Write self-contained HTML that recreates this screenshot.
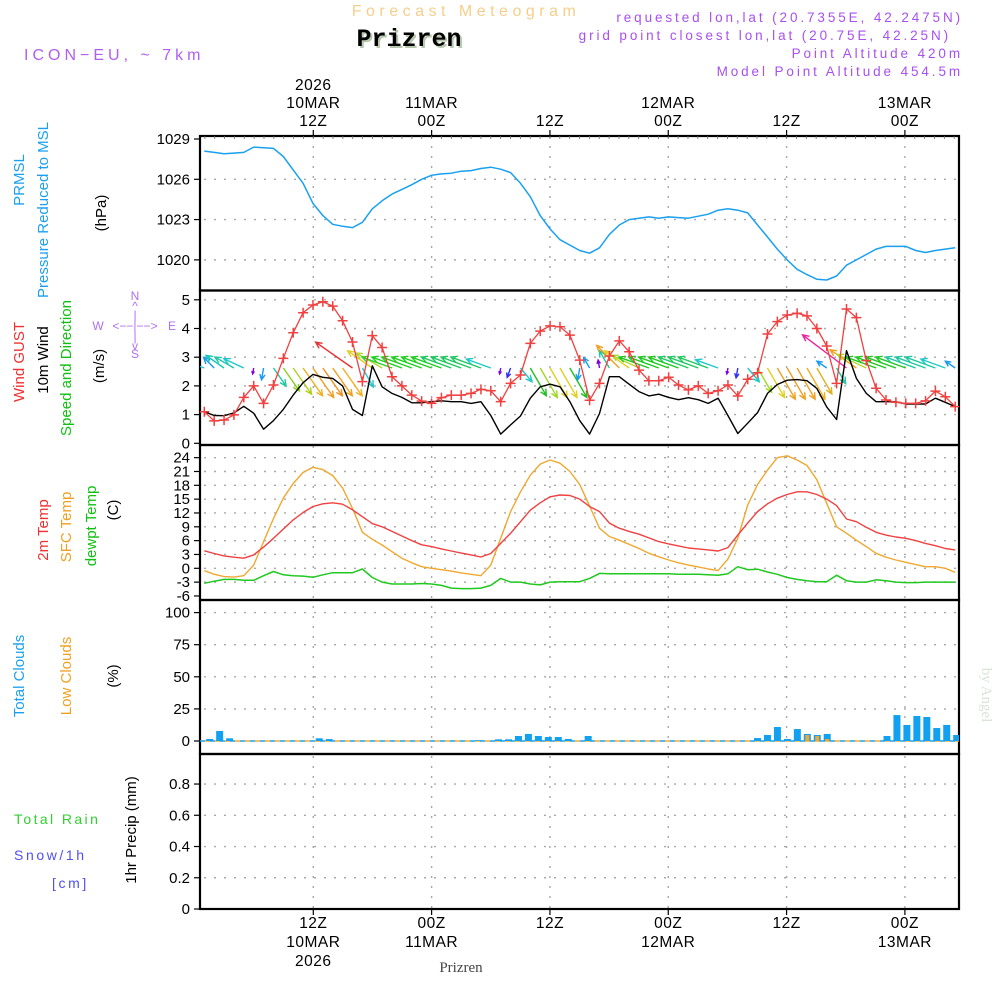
<!DOCTYPE html>
<html><head><meta charset="utf-8"><style>
html,body{margin:0;padding:0;background:#fff;}
svg{display:block;font-family:"Liberation Sans",sans-serif;}
</style></head><body>
<svg id="chart" width="1000" height="1000" viewBox="0 0 1000 1000" xmlns="http://www.w3.org/2000/svg">
<g id="header">
<text x="466" y="16" text-anchor="middle" font-size="16" fill="#f5cf8a" letter-spacing="4.5">Forecast Meteogram</text>
<text x="411" y="48" text-anchor="middle" font-size="25" font-weight="bold" font-family="Liberation Mono, monospace" fill="#b8c8b0">Prizren</text>
<text x="409" y="46" text-anchor="middle" font-size="25" font-weight="bold" font-family="Liberation Mono, monospace" fill="#000">Prizren</text>
<text x="24" y="60" font-size="16" fill="#b060f0" letter-spacing="4">ICON−EU, ~ 7km</text>
<text x="963" y="22" text-anchor="end" font-size="13.5" fill="#a850f0" letter-spacing="2.9">requested lon,lat (20.7355E, 42.2475N)</text>
<text x="951" y="40" text-anchor="end" font-size="13.5" fill="#a850f0" letter-spacing="2.9">grid point closest lon,lat (20.75E, 42.25N)</text>
<text x="963" y="58" text-anchor="end" font-size="13.5" fill="#a850f0" letter-spacing="2.9">Point Altitude 420m</text>
<text x="963" y="76" text-anchor="end" font-size="13.5" fill="#a850f0" letter-spacing="2.9">Model Point Altitude 454.5m</text>
</g>
<g id="left-labels" font-size="15">
<text transform="translate(24,180) rotate(-90)" text-anchor="middle" fill="#1aa0f0">PRMSL</text>
<text transform="translate(48,210) rotate(-90)" text-anchor="middle" fill="#1aa0f0">Pressure Reduced to MSL</text>
<text transform="translate(106,213) rotate(-90)" text-anchor="middle" fill="#000">(hPa)</text>
<text transform="translate(24,362) rotate(-90)" text-anchor="middle" fill="#f03030">Wind GUST</text>
<text transform="translate(48,360) rotate(-90)" text-anchor="middle" fill="#000">10m Wind</text>
<text transform="translate(71,368) rotate(-90)" text-anchor="middle" fill="#10c010">Speed and Direction</text>
<text transform="translate(104,366) rotate(-90)" text-anchor="middle" fill="#000">(m/s)</text>
<text transform="translate(48,530) rotate(-90)" text-anchor="middle" fill="#f03030">2m Temp</text>
<text transform="translate(71,527) rotate(-90)" text-anchor="middle" fill="#f0a020">SFC Temp</text>
<text transform="translate(96,526) rotate(-90)" text-anchor="middle" fill="#10c010">dewpt Temp</text>
<text transform="translate(118,510) rotate(-90)" text-anchor="middle" fill="#000">(C)</text>
<text transform="translate(24,676) rotate(-90)" text-anchor="middle" fill="#1aa0f0">Total Clouds</text>
<text transform="translate(71,676) rotate(-90)" text-anchor="middle" fill="#f0a020">Low Clouds</text>
<text transform="translate(118,676) rotate(-90)" text-anchor="middle" fill="#000">(%)</text>
<text x="14" y="824" fill="#30d030" letter-spacing="2.4" font-size="14">Total  Rain</text>
<text x="14" y="860" fill="#5050f0" letter-spacing="2.6" font-size="14">Snow/1h</text>
<text x="52" y="888" fill="#5050f0" letter-spacing="2.6" font-size="14">[cm]</text>
<text transform="translate(136,830) rotate(-90)" text-anchor="middle" fill="#000">1hr Precip (mm)</text>
<text transform="translate(982,695) rotate(90)" text-anchor="middle" fill="#d8e4d8" font-family="Liberation Serif, serif" font-size="15">by Angel</text>
<text x="461" y="972" text-anchor="middle" font-family="Liberation Serif, serif" font-size="15" fill="#444">Prizren</text>
</g>
<g id="compass" fill="#b070f0" font-size="12" text-anchor="middle">
<text x="135" y="300">N</text><text x="135" y="310">^</text><text x="135" y="319">|</text>
<text x="98" y="330">W</text><text x="135" y="330">&lt;−−|−−&gt;</text><text x="172" y="330">E</text>
<text x="135" y="341">|</text><text x="135" y="350">v</text><text x="135" y="358">S</text>
</g>
<g id="plots"></g>
</svg>
<script>
// ---------- data ----------
const topTimeLabels = [["2026","10MAR","12Z"],["11MAR","00Z"],["12Z"],["12MAR","00Z"],["12Z"],["13MAR","00Z"]];
const bottomTimeLabels = [["12Z","10MAR","2026"],["00Z","11MAR"],["12Z"],["00Z","12MAR"],["12Z"],["00Z","13MAR"]];
const timeLabelHours = [0,12,24,36,48,60];
const pressure = [1028.1,1028.0,1027.9,1027.95,1028.0,1028.4,1028.35,1028.3,1027.7,1026.7,1025.7,1024.2,1023.3,1022.65,1022.5,1022.4,1022.8,1023.8,1024.4,1024.9,1025.25,1025.6,1026.0,1026.3,1026.4,1026.45,1026.6,1026.65,1026.8,1026.9,1026.75,1026.5,1025.7,1024.7,1023.3,1022.3,1021.5,1021.1,1020.7,1020.5,1020.9,1021.9,1022.6,1023.0,1023.1,1023.2,1023.1,1023.2,1023.15,1023.1,1023.25,1023.4,1023.7,1023.8,1023.7,1023.5,1022.6,1021.7,1020.8,1020.0,1019.3,1018.9,1018.55,1018.5,1018.8,1019.6,1020.0,1020.4,1020.8,1021.0,1021.0,1021.0,1020.7,1020.55,1020.7,1020.8,1020.9];
const pressureTicks = [1020,1023,1026,1029];
const gust = [1.1,0.78,0.81,0.99,1.6,2.0,1.39,2.03,2.96,3.85,4.55,4.82,4.93,4.78,4.27,3.53,2.15,3.75,3.34,2.32,2.0,1.68,1.47,1.39,1.59,1.68,1.68,1.74,1.88,1.83,1.45,2.09,2.38,3.48,3.91,4.09,4.06,3.77,2.9,1.5,2.09,3.04,3.57,3.19,2.55,2.18,2.18,2.3,2.03,1.86,2.0,1.74,1.83,2.03,1.65,2.23,2.46,3.81,4.24,4.47,4.53,4.44,4.0,3.39,2.09,4.68,4.38,2.88,1.92,1.51,1.43,1.39,1.39,1.48,1.82,1.62,1.28];
const windSpeed = [1.1,0.97,0.96,1.06,1.29,1.05,0.49,0.79,1.18,1.68,2.11,2.4,2.3,2.26,2.0,1.18,0.97,2.7,1.97,1.74,1.6,1.41,1.41,1.45,1.48,1.45,1.45,1.39,1.45,0.97,0.32,0.64,0.95,1.57,1.97,2.06,1.97,1.45,0.79,0.32,1.04,2.32,2.32,2.06,1.8,1.65,1.71,1.6,1.52,1.59,1.52,1.39,1.57,0.97,0.34,0.7,1.07,1.74,2.05,2.2,2.22,2.18,1.91,1.27,0.83,3.23,2.26,1.74,1.45,1.45,1.45,1.37,1.37,1.37,1.57,1.43,1.28];
const windTicks = [0,1,2,3,4,5];
const arrowAngle = [200,225,215,210,205,100,100,55,55,55,55,55,55,55,55,215,60,215,210,200,200,200,200,200,200,200,200,200,200,200,100,110,50,60,60,60,60,60,100,240,260,240,225,215,205,200,200,200,200,200,200,200,200,100,100,50,60,60,60,60,60,60,60,215,60,217,215,205,200,200,200,200,200,200,200,200,215];
const arrowLength = [22,15,22,22,22,6,12,22,28,32,34,36,34,34,34,45,22,30,30,32,32,32,32,32,32,32,32,32,32,26,6,10,18,32,34,34,34,34,12,12,8,20,32,30,30,32,32,32,32,32,32,32,24,6,10,18,28,34,36,36,36,36,30,12,18,55,32,32,32,32,32,32,32,32,32,26,12];
const arrowColor = ["#1bc8d0","#1a9af0","#19c8b0","#20c8a8","#1bc8d0","#8000e0","#1a9af0","#20c8a0","#88d020","#b0d020","#f0b020","#f0a020","#f09020","#f0a020","#f0b020","#e83030","#20c8d0","#e0d020","#b0d830","#30d030","#20d020","#20d020","#20d020","#20d020","#20d020","#20c860","#20c860","#20c860","#20c860","#20c8c8","#8000e0","#3030f0","#20c8c0","#20c020","#a0d820","#e0d020","#e0d020","#20c020","#1a9af0","#1a9af0","#8000e0","#20c8a0","#f0a020","#e0d020","#b0d830","#20c820","#20c820","#20c820","#20c820","#20c860","#20c860","#20c860","#20c8c8","#8000e0","#3030f0","#20c8c0","#a0d820","#e0d020","#f0a020","#f0a020","#f0a020","#f0b020","#e0b020","#1a9af0","#20c8a0","#f0209a","#f0a020","#b0d830","#20c820","#20c820","#20c820","#20c820","#20c8a0","#20c8a0","#20c8a0","#20c8c8","#1a9af0"];
const temp2m = [3.8,3.2,2.7,2.4,2.2,2.9,4.6,6.5,8.5,10.5,12.1,13.4,14.0,14.2,13.9,12.7,11.2,9.7,9.0,8.0,7.0,6.0,5.1,4.7,4.2,3.75,3.3,2.9,2.45,3.2,5.4,7.6,10.1,12.6,14.2,15.5,15.9,15.8,15.0,13.4,12.3,9.8,8.7,8.0,7.4,6.6,5.8,5.3,4.85,4.4,4.2,4.0,3.75,4.5,7.2,9.8,12.3,14.0,15.2,16.0,16.6,16.6,16.0,15.0,13.6,10.7,10.1,8.9,7.8,7.2,6.8,6.5,6.0,5.4,4.9,4.3,4.0];
const sfcTemp = [-0.5,-1.3,-1.8,-1.9,-1.6,0.7,5.8,10.8,15.2,18.4,20.8,21.9,21.4,20.1,17.4,13.0,7.8,6.3,5.05,3.6,2.2,1.2,0.35,0,-0.3,-0.6,-1.0,-1.3,-1.6,0.7,6.5,12.3,16.6,20.2,22.6,23.5,22.8,21.0,18.2,13.5,8.7,6.9,6.1,5.2,4.3,3.25,2.5,1.8,1.2,0.7,0.3,-0.15,-0.5,2.0,6.5,13.7,18.2,21.3,24.0,24.4,23.5,22.3,19.2,14.1,9.0,7.6,6.1,4.7,3.25,2.4,1.8,1.3,0.8,0.35,0.35,0,-0.9];
const dewpoint = [-3.25,-2.8,-2.4,-2.4,-2.6,-2.6,-1.6,-0.7,-1.4,-1.6,-1.7,-1.95,-1.4,-0.95,-0.95,-0.95,-0.15,-2.0,-3.0,-3.4,-3.4,-3.4,-3.3,-3.4,-3.7,-4.3,-4.4,-4.4,-4.3,-3.7,-2.2,-3.0,-3.0,-3.4,-3.6,-3.0,-2.9,-2.9,-2.9,-2.2,-1.1,-1.2,-1.2,-1.2,-1.2,-1.2,-1.2,-1.2,-1.3,-1.3,-1.3,-1.4,-1.5,-1.2,0.35,-0.3,-0.2,-0.8,-1.3,-2.0,-2.4,-2.7,-2.9,-2.9,-1.5,-2.7,-3.0,-3.0,-2.5,-2.7,-3.0,-3.1,-3.1,-3.0,-3.0,-3.0,-3.0];
const tempTicks = [-6,-3,0,3,6,9,12,15,18,21,24];
const totalClouds = [1.6,7.8,2.1,0,0,0,0,0,0,0,0,2.1,1.5,0,0,0,0,0,0,0,0,0,0,0,0,0,0,0.6,0,1.3,1.3,3.9,5.5,3.9,3.1,3.1,1.6,0,3.9,0,0,0,0,0,0,0,0,0,0,0,0,0,0,0,0,2.3,4.7,10.9,1.6,9.3,5.5,4.7,5.5,0,0,0,0,0,3.9,20.2,12.5,19.5,18.7,10.1,12.5,4.7];
const lowClouds = [0,0,0,0,0,0,0,0,0,0,0,0,0,0,0,0,0,0,0,0,0,0,0,0,0,0,0,0,0,0,0,0,0,0,0,0,0,0,0,0,0,0,0,0,0,0,0,0,0,0,0,0,0,0,0,0,0,0,0,0,4.7,3.9,1.6,0,0,0,0,0,0,0,0,0,0,0,0,0];
const cloudTicks = [0,25,50,75,100];
const precip = [0,0,0,0,0,0,0,0,0,0,0,0,0,0,0,0,0,0,0,0,0,0,0,0,0,0,0,0,0,0,0,0,0,0,0,0,0,0,0,0,0,0,0,0,0,0,0,0,0,0,0,0,0,0,0,0,0,0,0,0,0,0,0,0,0,0,0,0,0,0,0,0,0,0,0,0,0];
const precipTicks = [0,0.2,0.4,0.6,0.8];
const precipTickLabels = ["0","0.2","0.4","0.6","0.8"];

// ---------- scales ----------
const L=200, R=959;
const xPt = i => 204.3 + 9.88*i;
const xHour = h => 313.3 + 9.86*h;
const xBar = i => 209.7 + 9.96*i;
const yP = v => 139 + (1029 - v)*13.43;
const yW = v => 443.3 - v*28.7;
const yT = v => 568.3 - v*4.61;
const yC = v => 741 - v*1.284;
const yR = v => 909 - v*156.2;
const panels = [[136,290.5],[290.5,445],[445,600],[600,754],[754,909]];

const NS="http://www.w3.org/2000/svg";
const root=document.getElementById('plots');
function mk(tag,attrs,parent){const e=document.createElementNS(NS,tag);for(const k in attrs)e.setAttribute(k,attrs[k]);(parent||root).appendChild(e);return e;}

const defs=mk('defs',{});
const cp=mk('clipPath',{id:'plotclip'},defs);
mk('rect',{x:L,y:136,width:R-L,height:773},cp);

const grid=mk('g',{stroke:'#a8a8a8','stroke-width':1.4,'stroke-dasharray':'2,8',fill:'none'});


function hgrid(ys){ys.forEach(y=>mk('line',{x1:L+4,x2:R,y1:y,y2:y},grid));}
hgrid(pressureTicks.filter(v=>v<1029).map(yP));
hgrid(windTicks.filter(v=>v>0).map(yW));
hgrid(tempTicks.filter(v=>v>-6).map(yT));
hgrid(cloudTicks.filter(v=>v>0).map(yC));
hgrid(precipTicks.filter(v=>v>0).map(yR));
timeLabelHours.forEach(h=>{mk('line',{x1:xHour(h),x2:xHour(h),y1:136,y2:909},grid);});

const ax=mk('g',{stroke:'#000',fill:'none'});


panels.forEach(p=>mk('rect',{x:L,y:p[0],width:R-L,height:p[1]-p[0],'stroke-width':2.2},ax));
for(let h=-11;h<=65;h++){mk('line',{x1:xHour(h),x2:xHour(h),y1:136,y2:139,'stroke-width':0.8,stroke:'#666'},ax);}
timeLabelHours.forEach(h=>{mk('line',{x1:xHour(h),x2:xHour(h),y1:130,y2:136,'stroke-width':1.2},ax);mk('line',{x1:xHour(h),x2:xHour(h),y1:909,y2:915,'stroke-width':1.2},ax);});

const tl=mk('g',{'font-size':15,fill:'#000','text-anchor':'end'});


function yticks(vals,f,labels){vals.forEach((v,k)=>{const y=f(v);mk('line',{x1:L-6,x2:L,y1:y,y2:y,stroke:'#000','stroke-width':1.2},tl);const t=mk('text',{x:L-10,y:y+5},tl);t.textContent=labels?labels[k]:String(v);});}
yticks(pressureTicks,yP);
yticks(windTicks,yW);
yticks(tempTicks,yT);
yticks(cloudTicks,yC);
yticks(precipTicks,yR,precipTickLabels);

const tg=mk('g',{'font-size':15.5,fill:'#000','text-anchor':'middle','letter-spacing':'0.5'});


timeLabelHours.forEach((h,k)=>{
  const top=topTimeLabels[k];
  top.forEach((s,j)=>{const t=mk('text',{x:xHour(h),y:126-(top.length-1-j)*18},tg);t.textContent=s;});
  bottomTimeLabels[k].forEach((s,j)=>{const t=mk('text',{x:xHour(h),y:928+j*19},tg);t.textContent=s;});
});

const plot=mk('g',{'clip-path':'url(#plotclip)'});
function line(vals,fy,color,w,name){
  const d=vals.map((v,i)=>(i?'L':'M')+xPt(i).toFixed(1)+','+fy(v).toFixed(1)).join('');
  const p=mk('path',{d:d,stroke:color,'stroke-width':w,fill:'none','stroke-linejoin':'round'},plot);
  
  
  return p;
}
line(pressure,yP,'#1aa0f0',1.5,'pressure-line');

const ag=mk('g',{'stroke-width':1.4,fill:'none'},plot);


arrowAngle.forEach((a,i)=>{
  const len=arrowLength[i], c=arrowColor[i], rad=a*Math.PI/180;
  const x0=xPt(i), y0=368, x1=x0+len*Math.cos(rad), y1=y0+len*Math.sin(rad);
  const hl=Math.min(7,len*0.5);
  const h1=rad+Math.PI-0.45, h2=rad+Math.PI+0.45;
  const e=mk('path',{d:`M${x0},${y0}L${x1},${y1}M${x1+hl*Math.cos(h1)},${y1+hl*Math.sin(h1)}L${x1},${y1}L${x1+hl*Math.cos(h2)},${y1+hl*Math.sin(h2)}`,stroke:c},ag);
  
  
});
line(windSpeed,yW,'#000',1.4,'wind-speed-line');
line(gust,yW,'#f04040',1.3,'wind-gust-line');
const gm=mk('g',{stroke:'#f04040','stroke-width':1.5},plot);


gust.forEach((v,i)=>{const x=xPt(i),y=yW(v);
  const m=mk('path',{d:`M${x-5},${y}h10M${x},${y-5}v10`},gm);
  
  
});

line(sfcTemp,yT,'#f0a830',1.4,'sfc-temp-line');
line(temp2m,yT,'#f04040',1.4,'2m-temp-line');
line(dewpoint,yT,'#20c820',1.5,'dewpoint-line');

const cg=mk('g',{},plot);


mk('line',{x1:L,x2:R,y1:741,y2:741,stroke:'#1aa0f0','stroke-width':1.5,'stroke-dasharray':'5,5'},cg);
mk('line',{x1:L+5,x2:R,y1:741,y2:741,stroke:'#f0a830','stroke-width':1.5,'stroke-dasharray':'5,5'},cg);
totalClouds.forEach((v,i)=>{ if(v<=0) return;
  const b=mk('rect',{x:xBar(i)-3.5,y:yC(v),width:7,height:741-yC(v),fill:'#12a0f0'},cg);
  
  
});
lowClouds.forEach((v,i)=>{ if(v<=0) return;
  const b=mk('rect',{x:xBar(i)-2,y:yC(v),width:4,height:741-yC(v),fill:'#f0a830'},cg);
  
  
});
const pl=mk('path',{d:precip.map((v,i)=>(i?'L':'M')+xPt(i)+','+yR(v)).join(''),stroke:'#000','stroke-width':2,'stroke-dasharray':'6,4',fill:'none'},plot);


</script>
</body></html>
